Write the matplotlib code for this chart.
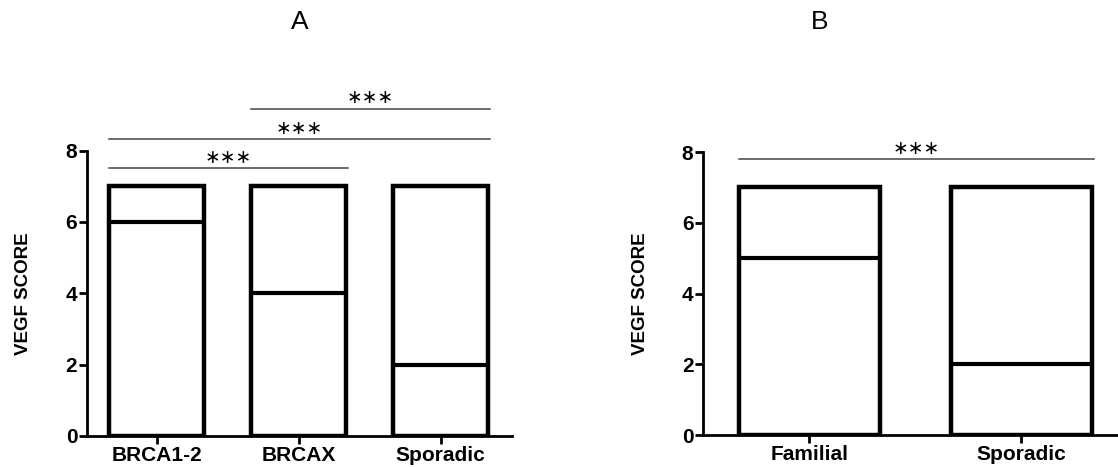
import matplotlib.pyplot as plt

plt.rcParams['font.family'] = ['Liberation Sans', 'DejaVu Sans']

# panel A
groups_a = ['BRCA1-2', 'BRCAX', 'Sporadic']
max_a = [7, 7, 7]
median_a = [6, 4, 2]
# (from, to, level) significance brackets
sig_a = [(0, 1, 7.5), (0, 2, 8.32), (1, 2, 9.18)]

# panel B
groups_b = ['Familial', 'Sporadic']
max_b = [7, 7]
median_b = [5, 2]
sig_b = [(0, 1, 7.8)]

fig = plt.figure(figsize=(11.18, 4.67), dpi=100)
ax_a = fig.add_axes([0.0778, 0.0664, 0.380, 0.611])
ax_b = fig.add_axes([0.629, 0.0685, 0.370, 0.606])


def draw_panel(ax, groups, maxes, medians, sigs, width, xlim, title, title_x):
    xs = list(range(len(groups)))
    ax.bar(xs, maxes, width=width, color='white', edgecolor='black',
           linewidth=3.2, zorder=2)
    for x, m in zip(xs, medians):
        ax.plot([x - width / 2, x + width / 2], [m, m], color='black',
                lw=3.0, solid_capstyle='butt', zorder=3)
    for a, b, lvl in sigs:
        x0 = a - width / 2
        x1 = b + width / 2 + 0.01
        ax.plot([x0, x1], [lvl, lvl], color='#444444', lw=1.1,
                clip_on=False)
        ax.text((x0 + x1) / 2, lvl + 0.31, '\u2217\u2217\u2217',
                ha='center', va='center', fontsize=13.5, family='DejaVu Sans',
                clip_on=False)
    ax.set_xlim(*xlim)
    ax.set_ylim(0, 8)
    ax.set_yticks([0, 2, 4, 6, 8])
    ax.set_xticks(xs)
    ax.set_xticklabels(groups, fontweight='bold', fontsize=15)
    for lab in ax.get_yticklabels():
        lab.set_fontweight('bold')
        lab.set_fontsize(15)
    ax.spines['top'].set_visible(False)
    ax.spines['right'].set_visible(False)
    ax.spines['left'].set_linewidth(2)
    ax.spines['bottom'].set_linewidth(2)
    ax.tick_params(width=2, length=6, pad=1)
    ax.set_ylabel('VEGF SCORE', fontweight='bold', fontsize=13.5, labelpad=24)
    fig.text(title_x, 1 - 22 / 467, title, ha='center', va='center',
             fontsize=19)


draw_panel(ax_a, groups_a, max_a, median_a, sig_a, 0.67, (-0.49, 2.5),
           'A', 300 / 1118)
draw_panel(ax_b, groups_b, max_b, median_b, sig_b, 0.667, (-0.5, 1.45),
           'B', 820 / 1118)

fig.savefig('out.png', dpi=100)
